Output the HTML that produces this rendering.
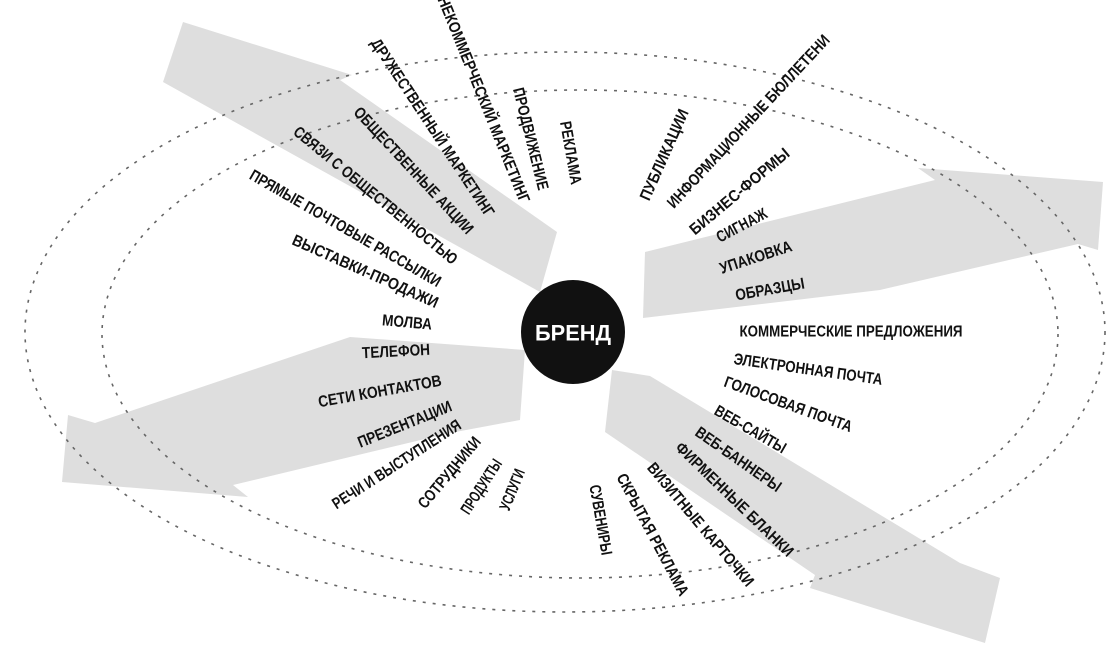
<!DOCTYPE html>
<html><head><meta charset="utf-8"><style>
html,body{margin:0;padding:0;background:#fff;}
svg{display:block}
text{font-family:"Liberation Sans Narrow","Liberation Sans","DejaVu Sans Condensed",sans-serif;font-size:16px;fill:#111;font-weight:bold;}
</style></head><body>
<svg width="1113" height="650" viewBox="0 0 1113 650" xmlns="http://www.w3.org/2000/svg">
<g fill="#dedede">
<polygon points="183,22 352,75 340,80 557,232 540,292 163,82"/>
<polygon points="645,252 935,180 918,168 1103,182 1098,250 1078,244 880,290 643,318"/>
<polygon points="612,370 650,376 960,563 1000,578 985,643 810,588 815,575 605,432"/>
<polygon points="68,415 95,423 350,337 525,350 520,420 450,433 233,485 248,497 62,482"/>
</g>
<g fill="none" stroke="#666" stroke-width="1.6" stroke-dasharray="3,7">
<ellipse cx="565" cy="332" rx="540" ry="280"/>
<ellipse cx="580" cy="334" rx="478" ry="244"/>
</g>
<circle cx="573" cy="332" r="52" fill="#111"/>
<text x="573" y="333" text-anchor="middle" dominant-baseline="central" style="font-size:22px;font-weight:bold;fill:#fff" textLength="76" lengthAdjust="spacingAndGlyphs">БРЕНД</text>
<g text-anchor="middle" dominant-baseline="central">
<text transform="translate(483,100) rotate(68)" textLength="221" lengthAdjust="spacingAndGlyphs">НЕКОММЕРЧЕСКИЙ МАРКЕТИНГ</text>
<text transform="translate(432,128) rotate(56.5)" textLength="210" lengthAdjust="spacingAndGlyphs">ДРУЖЕСТВЕННЫЙ МАРКЕТИНГ</text>
<text transform="translate(530,139) rotate(76)" textLength="105" lengthAdjust="spacingAndGlyphs">ПРОДВИЖЕНИЕ</text>
<text transform="translate(570,153) rotate(80)" textLength="64" lengthAdjust="spacingAndGlyphs">РЕКЛАМА</text>
<text transform="translate(413,171) rotate(47)" textLength="167" lengthAdjust="spacingAndGlyphs">ОБЩЕСТВЕННЫЕ АКЦИИ</text>
<text transform="translate(375,196) rotate(39.5)" textLength="207" lengthAdjust="spacingAndGlyphs">СВЯЗИ С ОБЩЕСТВЕННОСТЬЮ</text>
<text transform="translate(345,229) rotate(30)" textLength="218" lengthAdjust="spacingAndGlyphs">ПРЯМЫЕ ПОЧТОВЫЕ РАССЫЛКИ</text>
<text transform="translate(365,272) rotate(24)" textLength="158" lengthAdjust="spacingAndGlyphs">ВЫСТАВКИ-ПРОДАЖИ</text>
<text transform="translate(407,323) rotate(5)" textLength="50" lengthAdjust="spacingAndGlyphs">МОЛВА</text>
<text transform="translate(396,352) rotate(-3)" textLength="68" lengthAdjust="spacingAndGlyphs">ТЕЛЕФОН</text>
<text transform="translate(380,392) rotate(-10)" textLength="125" lengthAdjust="spacingAndGlyphs">СЕТИ КОНТАКТОВ</text>
<text transform="translate(405,425) rotate(-22)" textLength="100" lengthAdjust="spacingAndGlyphs">ПРЕЗЕНТАЦИИ</text>
<text transform="translate(397,465) rotate(-33)" textLength="150" lengthAdjust="spacingAndGlyphs">РЕЧИ И ВЫСТУПЛЕНИЯ</text>
<text transform="translate(450,473) rotate(-50)" textLength="88" lengthAdjust="spacingAndGlyphs">СОТРУДНИКИ</text>
<text transform="translate(482,487) rotate(-57)" textLength="62" lengthAdjust="spacingAndGlyphs">ПРОДУКТЫ</text>
<text transform="translate(513,490) rotate(-68)" textLength="43" lengthAdjust="spacingAndGlyphs">УСЛУГИ</text>
<text transform="translate(600,520) rotate(80)" textLength="71" lengthAdjust="spacingAndGlyphs">СУВЕНИРЫ</text>
<text transform="translate(652,535) rotate(62)" textLength="136" lengthAdjust="spacingAndGlyphs">СКРЫТАЯ РЕКЛАМА</text>
<text transform="translate(700,525) rotate(50)" textLength="156" lengthAdjust="spacingAndGlyphs">ВИЗИТНЫЕ КАРТОЧКИ</text>
<text transform="translate(734,500) rotate(44)" textLength="157" lengthAdjust="spacingAndGlyphs">ФИРМЕННЫЕ БЛАНКИ</text>
<text transform="translate(738,460) rotate(35)" textLength="101" lengthAdjust="spacingAndGlyphs">ВЕБ-БАННЕРЫ</text>
<text transform="translate(750,430) rotate(30)" textLength="80" lengthAdjust="spacingAndGlyphs">ВЕБ-САЙТЫ</text>
<text transform="translate(788,405) rotate(20)" textLength="135" lengthAdjust="spacingAndGlyphs">ГОЛОСОВАЯ ПОЧТА</text>
<text transform="translate(808,370) rotate(8)" textLength="150" lengthAdjust="spacingAndGlyphs">ЭЛЕКТРОННАЯ ПОЧТА</text>
<text transform="translate(851,332)" textLength="223" lengthAdjust="spacingAndGlyphs">КОММЕРЧЕСКИЕ ПРЕДЛОЖЕНИЯ</text>
<text transform="translate(770,290) rotate(-10)" textLength="70" lengthAdjust="spacingAndGlyphs">ОБРАЗЦЫ</text>
<text transform="translate(756,258) rotate(-18)" textLength="75" lengthAdjust="spacingAndGlyphs">УПАКОВКА</text>
<text transform="translate(742,226) rotate(-28)" textLength="55" lengthAdjust="spacingAndGlyphs">СИГНАЖ</text>
<text transform="translate(740,192) rotate(-40)" textLength="125" lengthAdjust="spacingAndGlyphs">БИЗНЕС-ФОРМЫ</text>
<text transform="translate(749,122) rotate(-47)" textLength="230" lengthAdjust="spacingAndGlyphs">ИНФОРМАЦИОННЫЕ БЮЛЛЕТЕНИ</text>
<text transform="translate(665,155) rotate(-66)" textLength="98" lengthAdjust="spacingAndGlyphs">ПУБЛИКАЦИИ</text>
</g>
</svg>
</body></html>
